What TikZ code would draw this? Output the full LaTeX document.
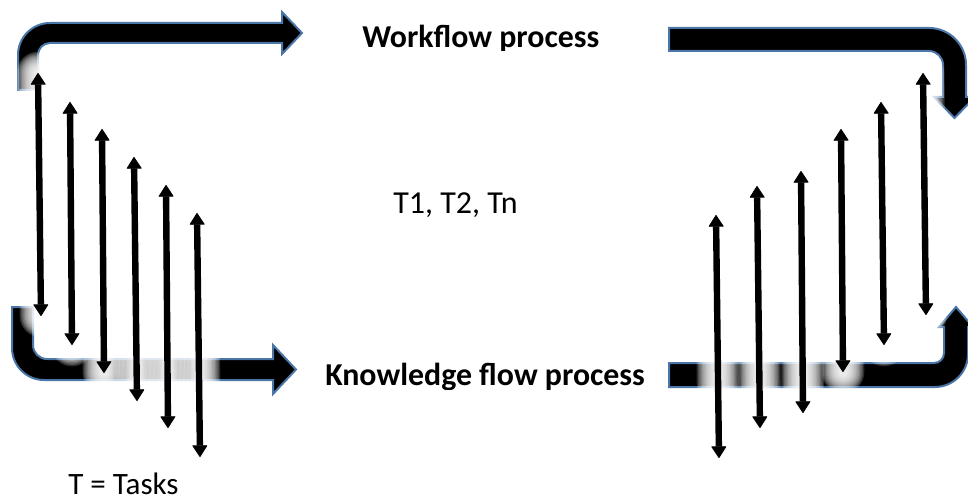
\documentclass[tikz,border=0pt]{standalone}
\usepackage{fontspec}
\setmainfont{Carlito}
\usetikzlibrary{arrows.meta}
\definecolor{edgeblue}{RGB}{74,118,168}
\tikzset{
  bigarrow/.style={fill=black, draw=edgeblue, line width=1.5pt, line join=miter},
  glowline/.style={white, line cap=round},
  taskarrow/.style={line width=4.8pt,
    {Triangle[width=11.5pt,length=9pt,round,line width=0.6pt]}-{Triangle[width=11.5pt,length=9pt,round,line width=0.6pt]}},
  txt/.style={inner sep=0pt, anchor=base west},
}
\begin{document}
\begin{tikzpicture}[x=0.75pt,y=-0.75pt]
\useasboundingbox (0,0) rectangle (968,499);

% bent block arrows
\path[bigarrow] (18,90) -- (18,55) arc[start angle=180,end angle=270,radius=32]
  -- (282,23) -- (282,12) -- (302,33) -- (282,54) -- (282,43)
  -- (50,43) arc[start angle=270,end angle=180,radius=12] -- (38,90) -- cycle;
\path[bigarrow] (669,28) -- (929,28) arc[start angle=270,end angle=360,radius=37]
  -- (966,97) -- (975,97) -- (954.5,118) -- (934,97) -- (943,97)
  -- (943,65) arc[start angle=0,end angle=-90,radius=14] -- (669,51) -- cycle;
\path[bigarrow] (12,307) -- (12,348) arc[start angle=180,end angle=90,radius=32]
  -- (273,380) -- (273,394) -- (296,369.5) -- (273,345) -- (273,359)
  -- (47,359) arc[start angle=90,end angle=180,radius=14] -- (33,307) -- cycle;
\path[bigarrow] (669,363) -- (934,363) arc[start angle=90,end angle=0,radius=10]
  -- (944,327) -- (939,327) -- (956,307) -- (973,327) -- (968,327)
  -- (968,354) arc[start angle=0,end angle=90,radius=33] -- (669,387) -- cycle;

% end points of the task arrows
\foreach \n/\xa/\ya/\xb/\yb in {
    l1/38/73/41/316, l2/70/102/72/345, l3/102/129/104/373,
    l4/134/157/137/401, l5/166/185/168/428, l6/197/213/200/457,
    r1/716/215/719/458, r2/757/186/760/428, r3/801/171/803/413,
    r4/841/129/843/372, r5/881/102/884/345, r6/923/73/926/315}{
  \coordinate (\n t) at (\xa,\ya);
  \coordinate (\n b) at (\xb,\yb);
}

% soft white glow behind each task arrow, built from thin translucent layers
\foreach \n in {l1,l2,l3,l4,l5,l6,r1,r2,r3,r4,r5,r6}{
  \foreach \k in {0,...,13}{
    \draw[glowline, opacity=.17, line width={32pt-2pt*\k}] (\n t) -- (\n b);
  }
}

% task arrows
\foreach \n in {l1,l2,l3,l4,l5,l6,r1,r2,r3,r4,r5,r6}{
  \draw[taskarrow] (\n b) -- (\n t);
}

% labels
\begin{scope}
  \clip (300,0) rectangle (660,51);
  \node[txt, font=\bfseries\fontsize{23.9}{28}\selectfont] (wf) at (362,48) {Workflow process};
\end{scope}
\begin{scope}
  \clip (300,340) rectangle (665,389);
  \node[txt, font=\bfseries\fontsize{23.9}{28}\selectfont] (kf) at (325,385.5) {Knowledge flow process};
\end{scope}
\node[txt, font=\fontsize{24}{28}\selectfont] (tl) at (393,214) {T1, T2, Tn};
\node[txt, font=\fontsize{23.3}{28}\selectfont] (tt) at (68,494) {T = Tasks};
\end{tikzpicture}
\end{document}
